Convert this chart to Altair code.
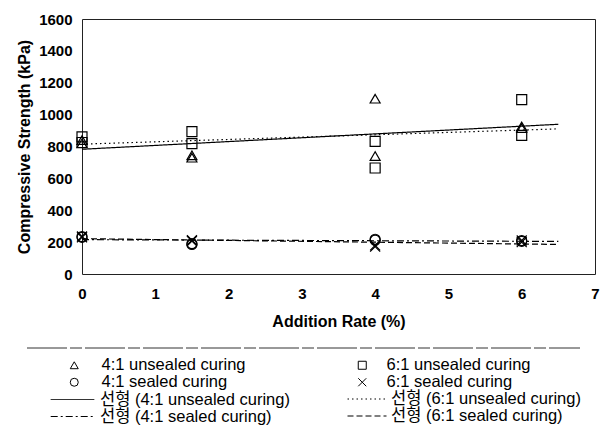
import altair as alt
import pandas as pd

# ---- data ----
rate = [0, 0, 1.5, 1.5, 4, 4, 6, 6]
s41_unsealed = [840, 820, 745, 730, 1100, 740, 926, 915]
s61_unsealed = [860, 825, 893, 818, 832, 665, 1094, 870]
s41_sealed = [230, 235, 185, 190, 212, 218, 205, 210]
s61_sealed = [230, 235, 207, 212, 172, 180, 200, 210]

names = ["4:1 unsealed curing", "6:1 unsealed curing", "4:1 sealed curing", "6:1 sealed curing"]
series_values = [s41_unsealed, s61_unsealed, s41_sealed, s61_sealed]
trend_names = ["선형 (" + n + ")" for n in names]

x_ticks = [0, 1, 2, 3, 4, 5, 6, 7]
y_ticks = [0, 200, 400, 600, 800, 1000, 1200, 1400, 1600]
trend_extent = [0, 6.5]

rows = []
for n, vals in zip(names, series_values):
    for xv, yv in zip(rate, vals):
        rows.append({"series": n, "rate": xv, "strength": yv})
df = pd.DataFrame(rows)

FONT = "Liberation Sans, Arial, Noto Sans CJK KR"
LEG_FS = 16.5
X_PATH = "M-1,-1L1,1M-1,1L1,-1"
shapes = ["triangle-up", "square", "circle", X_PATH]
dashes = [[1, 0], [1.5, 3], [7, 3, 2, 3], [6, 3]]

# legend placement (plot-area coordinates)
pt_leg = [(-16, 338, 19), (272, 338, 16), (-16, 355, 19), (272, 355, 16)]
ln_leg = [(-32, 358, 5, 1900), (265, 360, 4, 1521), (-32, 375, 5, 1900), (265, 377, 4, 1521)]

x_enc = alt.X(
    "rate:Q",
    scale=alt.Scale(domain=[0, 7], nice=False, zero=False),
    axis=alt.Axis(
        values=x_ticks, title="Addition Rate (%)", grid=False, ticks=False, domain=False,
        labelFont=FONT, labelFontSize=15, labelFontWeight="bold", labelColor="black",
        labelPadding=12, titleFont=FONT, titleFontSize=16, titleFontWeight="bold",
        titleColor="black", titlePadding=12, labelFlush=False, format="d",
    ),
)
y_enc = alt.Y(
    "strength:Q",
    scale=alt.Scale(domain=[0, 1600], nice=False),
    axis=alt.Axis(
        values=y_ticks, title="Compressive Strength (kPa)", grid=False, ticks=False, domain=False,
        labelFont=FONT, labelFontSize=15, labelFontWeight="bold", labelColor="black",
        labelPadding=10, titleFont=FONT, titleFontSize=16, titleFontWeight="bold",
        titleColor="black", titlePadding=6, labelFlush=False, format="d",
    ),
)

base = alt.Chart(df)
layers = []

for i, n in enumerate(names):
    lx, ly, off, sz = ln_leg[i]
    layers.append(
        base.transform_filter(alt.datum.series == n).transform_regression(
            "rate", "strength", groupby=["series"], extent=trend_extent
        ).transform_calculate(
            trend='"선형 (" + datum.series + ")"'
        ).mark_line(color="black", strokeWidth=1.2).encode(
            x=x_enc, y=y_enc,
            strokeDash=alt.StrokeDash(
                "trend:N",
                scale=alt.Scale(domain=[trend_names[i]], range=[dashes[i]]),
                legend=alt.Legend(
                    title=None, orient="none", legendX=lx, legendY=ly,
                    labelFont=FONT, labelFontSize=LEG_FS, labelColor="black", labelOffset=off,
                    symbolType="stroke", symbolSize=sz, symbolStrokeColor="black",
                    symbolStrokeWidth=1, padding=0, labelLimit=400,
                ),
            ),
        )
    )

for i, n in enumerate(names):
    lx, ly, off = pt_leg[i]
    layers.append(
        base.transform_filter(alt.datum.series == n).mark_point(
            filled=False, size=100, strokeWidth=1.2, color="black", opacity=1
        ).encode(
            x=x_enc, y=y_enc,
            shape=alt.Shape(
                "series:N",
                scale=alt.Scale(domain=[n], range=[shapes[i]]),
                legend=alt.Legend(
                    title=None, orient="none", legendX=lx, legendY=ly,
                    labelFont=FONT, labelFontSize=LEG_FS, labelColor="black", labelOffset=off,
                    symbolSize=64, symbolStrokeColor="black", symbolFillColor="transparent",
                    symbolStrokeWidth=1, padding=0, labelLimit=400,
                ),
            ),
        )
    )

border = alt.Chart(pd.DataFrame({"a": [0]})).mark_rule(
    color="#333", strokeWidth=1, strokeDash=[40, 3, 12, 3]
).encode(x=alt.value(-55), x2=alt.value(498), y=alt.value(329))
layers.append(border)

chart = alt.layer(*layers).resolve_scale(
    shape="independent", strokeDash="independent"
).resolve_legend(
    shape="independent", strokeDash="independent"
).properties(
    width=513, height=255,
    autosize=alt.AutoSizeParams(type="none"),
    padding={"left": 82, "top": 19, "right": 6, "bottom": 156},
    background="white",
).configure_view(stroke="#222", strokeWidth=1)

chart.save("out.html", embed_options={"renderer": "svg", "actions": False})
